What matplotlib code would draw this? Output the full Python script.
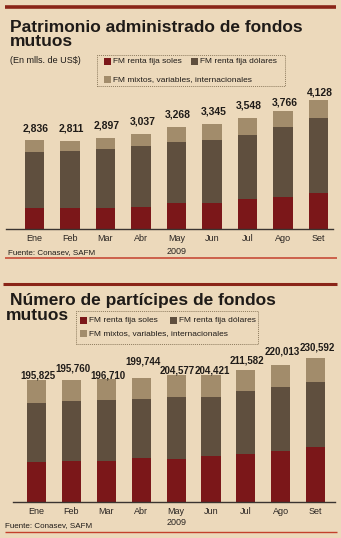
import matplotlib
matplotlib.use("Agg")
import matplotlib.pyplot as plt
from matplotlib.patches import Rectangle
from matplotlib.lines import Line2D

months = ["Ene", "Feb", "Mar", "Abr", "May", "Jun", "Jul", "Ago", "Set"]

# patrimonio administrado (mlls. de US$)
pat_soles = [672, 650, 670, 700, 805, 826, 935, 1006, 1140]
pat_dolares = [1796, 1830, 1880, 1950, 1980, 2025, 2074, 2244, 2406]
pat_mixtos = [368, 331, 347, 387, 483, 494, 539, 516, 582]
pat_total = [2836, 2811, 2897, 3037, 3268, 3345, 3548, 3766, 4128]

# numero de participes
par_soles = [63700, 65100, 65800, 70300, 69000, 73300, 77200, 81700, 87400]
par_dolares = [95500, 97100, 97000, 94400, 99100, 94700, 100300, 103100, 104600]
par_mixtos = [36625, 33560, 33910, 35044, 36477, 36421, 34082, 35213, 38592]
par_total = [195825, 195760, 196710, 199744, 204577, 204421, 211582, 220013, 230592]

legend_labels = ["FM renta fija soles", "FM renta fija dólares",
                 "FM mixtos, variables, internacionales"]

W, H = 341, 538
paper = "#ecd9bb"
ink = "#1f1b18"
c_red = "#7b1719"
c_dark = "#5f4f3e"
c_light = "#a28c6b"
rule_dark = "#8a2518"
rule_red = "#c4402c"

plt.rcParams["font.family"] = ["Liberation Sans", "DejaVu Sans"]

fig = plt.figure(figsize=(W / 100, H / 100), dpi=100, facecolor=paper)


def fx(px):
    return px / W


def fy(py):
    return 1 - py / H


def hline(y, x0, x1, lw, color):
    fig.add_artist(Line2D([fx(x0), fx(x1)], [fy(y), fy(y)], transform=fig.transFigure,
                          lw=lw, color=color, solid_capstyle="butt"))


def legend_box(x0, y0, x1, y1, sq1, sq2, sq3):
    fig.add_artist(Rectangle((fx(x0), fy(y1)), fx(x1) - fx(x0), fy(y0) - fy(y1),
                             transform=fig.transFigure, fill=False, lw=0.7,
                             ec="#8d7b5e", ls=(0, (1, 1))))
    for (sx, sy), col, lab in zip([sq1, sq2, sq3], [c_red, c_dark, c_light], legend_labels):
        fig.add_artist(Rectangle((fx(sx), fy(sy + 7)), 7 / W, 7 / H, transform=fig.transFigure,
                                 fc=col, ec="none"))
        fig.text(fx(sx + 9), fy(sy + 3.8), lab, fontsize=6, color=ink, va="center", ha="left")


def bar_panel(rect, centers0, step, width, ymax, soles, dolares, mixtos, total, fmt,
              lab_dy, lab_fs, tick_pad, year_dy):
    x0, x1, ytop, ybot = rect
    ax = fig.add_axes([fx(x0), fy(ybot), fx(x1) - fx(x0), fy(ytop) - fy(ybot)])
    ax.set_facecolor("none")
    x = list(range(len(months)))
    ax.bar(x, soles, width=width, color=c_red)
    b2 = [s for s in soles]
    ax.bar(x, dolares, bottom=b2, width=width, color=c_dark)
    b3 = [s + d for s, d in zip(soles, dolares)]
    ax.bar(x, mixtos, bottom=b3, width=width, color=c_light)
    ax.set_xlim((x0 - centers0) / step, (x1 - centers0) / step)
    ax.set_ylim(0, ymax)
    for i, t in enumerate(total):
        ax.annotate(fmt.format(t), (i, t), xytext=(1.5, lab_dy[i]), textcoords="offset pixels",
                    ha="center", va="center", fontsize=lab_fs, fontweight="bold", color=ink)
    ax.set_xticks(x)
    ax.set_xticklabels(months, fontsize=6.5, color="#2a2522")
    ax.tick_params(axis="x", length=0, pad=tick_pad)
    ax.set_yticks([])
    for s in ["top", "left", "right"]:
        ax.spines[s].set_visible(False)
    ax.spines["bottom"].set_color("#3a3430")
    ax.spines["bottom"].set_linewidth(1.0)
    ax.annotate("2009", (4, 0), xytext=(0, year_dy), textcoords="offset pixels",
                ha="center", va="center", fontsize=6.5, color="#2a2522", annotation_clip=False)
    return ax


# ---- panel 1 ----
hline(7, 5, 336, 2.6, rule_dark)
fig.text(fx(10), fy(31.5), "Patrimonio administrado de fondos", fontsize=12.5,
         fontweight="bold", color=ink, va="baseline")
fig.text(fx(10), fy(46.5), "mutuos", fontsize=12.5, fontweight="bold", color=ink, va="baseline")
fig.text(fx(10), fy(60.5), "(En mlls. de US$)", fontsize=6.5, color=ink, va="center")
legend_box(97, 55, 285, 86, (104, 57.5), (191, 57.5), (104, 75.5))

bar_panel((6, 333, 95, 228.5), 34.5, 35.5, 0.55, 4279,
          pat_soles, pat_dolares, pat_mixtos, pat_total, "{:,}",
          [12, 12, 13, 12.5, 12, 13, 12, 8.5, 7], 7.5, 4.3, -22.5)
fig.text(fx(8), fy(253), "Fuente: Conasev, SAFM", fontsize=5.8, color=ink, va="center")
hline(257.5, 5, 337, 1.1, rule_red)

# ---- panel 2 ----
hline(284, 3, 337, 2.2, rule_dark)
fig.text(fx(10), fy(305), "Número de partícipes de fondos", fontsize=12.5,
         fontweight="bold", color=ink, va="baseline")
fig.text(fx(6), fy(320), "mutuos", fontsize=12.5, fontweight="bold", color=ink, va="baseline")
legend_box(76, 311, 258, 343.5, (80, 316.5), (170, 316.5), (80, 330))

bar_panel((13, 335, 345, 501.5), 36.5, 34.9, 0.545, 252100,
          par_soles, par_dolares, par_mixtos, par_total, "{:,}",
          [4.7, 11, 4, 15.6, 4.4, 4.4, 9.3, 13.3, 11.3], 7, 3.6, -21.2)
fig.text(fx(5), fy(526), "Fuente: Conasev, SAFM", fontsize=5.8, color=ink, va="center")
hline(531.7, 5, 337, 1.0, rule_red)

fig.savefig("out.png", dpi=100, facecolor=paper)
